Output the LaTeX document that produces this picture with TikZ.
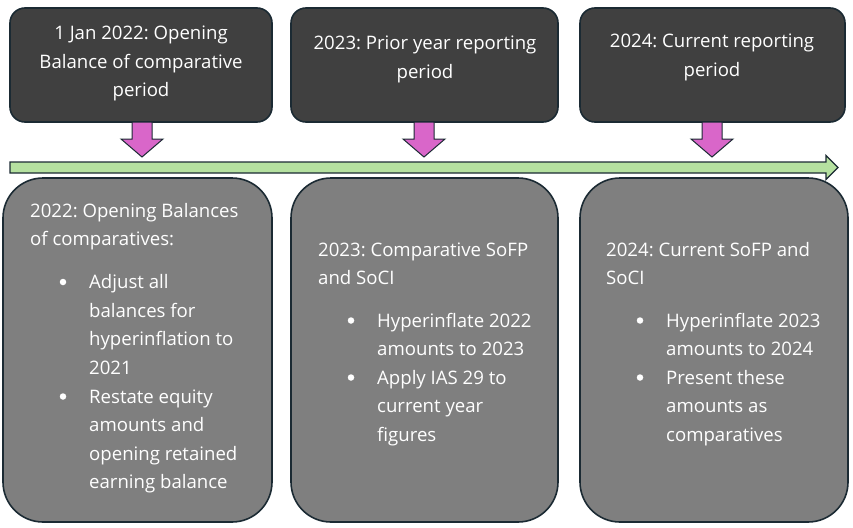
\documentclass[tikz,border=0pt]{standalone}
\usepackage{fontspec}
\setmainfont{Open Sans}
\frenchspacing
\definecolor{topfill}{HTML}{404040}
\definecolor{botfill}{HTML}{7F7F7F}
\definecolor{edge}{HTML}{1B2A33}
\definecolor{pinkarr}{HTML}{D966C9}
\definecolor{greenarr}{HTML}{B5E1A0}
\begin{document}
\begin{tikzpicture}[x=1pt,y=-1pt,
  topbox/.style={draw=edge,line width=1.6pt,fill=topfill,rounded corners=15pt},
  botbox/.style={draw=edge,line width=1.6pt,fill=botfill,rounded corners=40pt},
  downarr/.style={draw=edge,line width=1pt,fill=pinkarr,line join=miter},
  timearr/.style={draw=edge,line width=1.2pt,fill=greenarr,line join=miter},
  txt/.style={text=white,font=\fontsize{18.6}{22}\selectfont,inner sep=0pt},
  ctxt/.style={txt,anchor=base},
  ltxt/.style={txt,anchor=base west},
  dot/.style={circle,fill=white,inner sep=0pt,minimum size=6.5pt}]
\useasboundingbox (0,0) rectangle (853,527);

% top boxes
\path[topbox] (10,8) rectangle (272,122);
\path[topbox] (291,8) rectangle (558,122);
\path[topbox] (580,8) rectangle (845,122);

% down arrows
\foreach \c/\n in {142/a1,424/a2,712/a3}{
  \path[downarr] (\c-10,122) -- (\c+10,122) -- (\c+10,139) -- (\c+21,139)
    -- (\c,157) -- (\c-21,139) -- (\c-10,139) -- cycle;
}

% timeline arrow
\path[timearr] (10,162) -- (826,162) -- (826,155.5) -- (838,167.5)
  -- (826,179.5) -- (826,173) -- (10,173) -- cycle;

% bottom boxes
\path[botbox] (3,178) rectangle (272,522);
\path[botbox] (291,178) rectangle (558,522);
\path[botbox] (580,178) rectangle (848,522);

% top texts
\node[ctxt] (t1a) at (141,39.5) {1 Jan 2022: Opening};
\node[ctxt] (t1b) at (141,68) {Balance of comparative};
\node[ctxt] (t1c) at (141,96.5) {period};
\node[ctxt] (t2a) at (425,50) {2023: Prior year reporting};
\node[ctxt] (t2b) at (425,78.5) {period};
\node[ctxt] (t3a) at (712,48) {2024: Current reporting};
\node[ctxt] (t3b) at (712,76.5) {period};

% bottom box 1
\node[ltxt] (b1h1) at (30,217) {2022: Opening Balances};
\node[ltxt] (b1h2) at (30,245.6) {of comparatives:};
\node[dot] (b1d1) at (63,282) {};
\node[ltxt] (b1a) at (89,288.6) {Adjust all};
\node[ltxt] (b1b) at (89,317.2) {balances for};
\node[ltxt] (b1c) at (89,345.8) {hyperinflation to};
\node[ltxt] (b1d) at (89,374.4) {2021};
\node[dot] (b1d2) at (63,396.5) {};
\node[ltxt] (b1e) at (89,403) {Restate equity};
\node[ltxt] (b1f) at (89,431.6) {amounts and};
\node[ltxt] (b1g) at (89,460.2) {opening retained};
\node[ltxt] (b1h) at (89,488.8) {earning balance};

% bottom box 2
\node[ltxt] (b2h1) at (318,256) {2023: Comparative SoFP};
\node[ltxt] (b2h2) at (318,284.5) {and SoCI};
\node[dot] (b2d1) at (351,320.5) {};
\node[ltxt] (b2a) at (377,327) {Hyperinflate 2022};
\node[ltxt] (b2b) at (377,355.5) {amounts to 2023};
\node[dot] (b2d2) at (351,377.5) {};
\node[ltxt] (b2c) at (377,384) {Apply IAS 29 to};
\node[ltxt] (b2d) at (377,412.5) {current year};
\node[ltxt] (b2e) at (377,441) {figures};

% bottom box 3
\node[ltxt] (b3h1) at (606,256) {2024: Current SoFP and};
\node[ltxt] (b3h2) at (606,284.5) {SoCI};
\node[dot] (b3d1) at (640,320.5) {};
\node[ltxt] (b3a) at (666,327) {Hyperinflate 2023};
\node[ltxt] (b3b) at (666,355.5) {amounts to 2024};
\node[dot] (b3d2) at (640,377.5) {};
\node[ltxt] (b3c) at (666,384) {Present these};
\node[ltxt] (b3d) at (666,412.5) {amounts as};
\node[ltxt] (b3e) at (666,441) {comparatives};
\end{tikzpicture}
\end{document}
